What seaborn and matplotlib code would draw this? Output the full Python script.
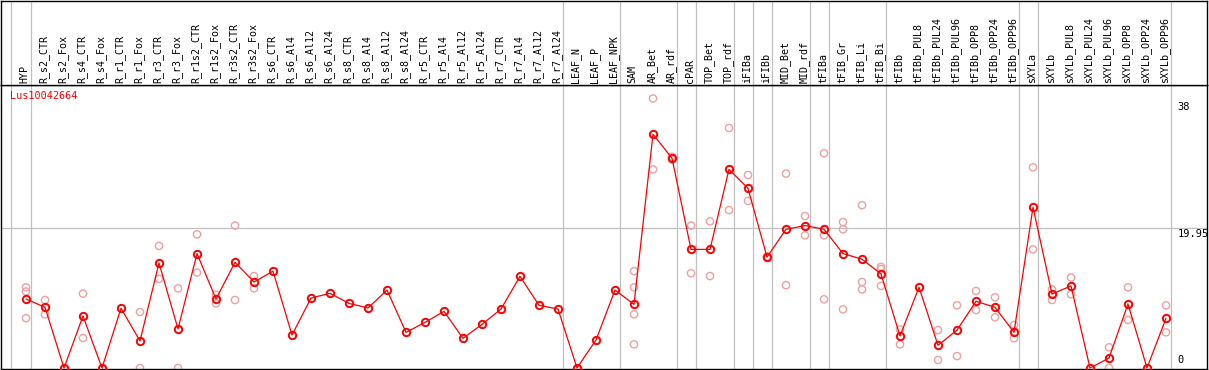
"""
Expression profile of one gene across tissue samples (means + replicates)
"""

import matplotlib
matplotlib.use("Agg")
import matplotlib.pyplot as plt
import seaborn as sns
import pandas as pd


# ──────────────────────────────────────────────
# DATA
# ──────────────────────────────────────────────

gene_name = "Lus10042664"

samples = [
    "HYP", "R_s2_CTR", "R_s2_Fox", "R_s4_CTR", "R_s4_Fox", "R_r1_CTR", "R_r1_Fox",
    "R_r3_CTR", "R_r3_Fox", "R_r1s2_CTR", "R_r1s2_Fox", "R_r3s2_CTR", "R_r3s2_Fox",
    "R_s6_CTR", "R_s6_Al4", "R_s6_Al12", "R_s6_Al24", "R_s8_CTR", "R_s8_Al4",
    "R_s8_Al12", "R_s8_Al24", "R_r5_CTR", "R_r5_Al4", "R_r5_Al12", "R_r5_Al24",
    "R_r7_CTR", "R_r7_Al4", "R_r7_Al12", "R_r7_Al24", "LEAF_N", "LEAF_P", "LEAF_NPK",
    "SAM", "AR_Bet", "AR_rdf", "cPAR", "TOP_Bet", "TOP_rdf", "iFIBa", "iFIBb",
    "MID_Bet", "MID_rdf", "tFIBa", "tFIB_Gr", "tFIB_Li", "tFIB_Bi", "tFIBb",
    "tFIBb_PUL8", "tFIBb_PUL24", "tFIBb_PUL96", "tFIBb_OPP8", "tFIBb_OPP24",
    "tFIBb_OPP96", "sXYLa", "sXYLb", "sXYLb_PUL8", "sXYLb_PUL24", "sXYLb_PUL96",
    "sXYLb_OPP8", "sXYLb_OPP24", "sXYLb_OPP96",
]

means = [
    9.83, 8.65, 0, 7.41, 0, 8.5, 3.85, 14.96, 5.56, 16.3, 9.83, 15.06, 12.25,
    13.8, 4.7, 9.97, 10.64, 9.2, 8.55, 11.1, 5.08, 6.5, 8.07, 4.23, 6.22,
    8.4, 13.06, 8.93, 8.4, 0, 3.99, 11.1,
    9.07, 33.3, 29.9, 16.9, 16.9, 28.3, 25.6, 15.8, 19.76, 20.3, 19.76, 16.3,
    15.5, 13.4, 4.56, 11.5, 3.23, 5.4, 9.5, 8.65, 5.08, 22.9, 10.54, 11.7,
    0, 1.42, 9.12, 0, 7.08,
]

replicates = [
    [11.5, 10.9, 7.1], [9.69, 7.65], [], [10.6, 4.27], [], [], [7.98, 0],
    [17.4, 12.7], [11.35, 0], [19.05, 13.6], [10.45, 9.2], [20.3, 9.69], [13.1, 11.35],
    [], [], [], [], [], [], [], [], [], [], [], [], [], [], [], [], [], [], [],
    [13.8, 11.5, 7.65, 3.37], [38.4, 28.3], [30.1, 29.7], [20.3, 13.5], [20.9, 13.1],
    [34.2, 22.5], [27.5, 23.8], [15.9, 15.7], [27.7, 11.8], [21.66, 18.9],
    [30.6, 18.9, 9.79], [20.8, 19.76, 8.36], [23.2, 12.25, 11.2], [14.4, 14.1, 11.7],
    [5.5, 3.37], [], [5.4, 1.14], [8.93, 1.7], [10.97, 8.26], [10.07, 7.22],
    [6.13, 4.23], [28.6, 16.9], [11.2, 9.69], [12.9, 10.5], [], [2.95, 0],
    [11.5, 6.84], [], [8.93, 5.08],
]

# group separators (after these column indices)
group_breaks = [-1.05, 0, 28, 31, 34, 35, 37, 38, 39, 41, 42, 45, 52, 53, 60]

y_ticks = [38, 19.95, 0]


# ──────────────────────────────────────────────
# PLOT
# ──────────────────────────────────────────────

def main():
    sns.set_style("white")
    plt.rcParams["font.family"] = ["DejaVu Sans Mono", "DejaVu Sans"]

    W, H = 1209, 370
    fig = plt.figure(figsize=(W / 100, H / 100), dpi=100)

    top_px, bot_px = 85, 369
    ax = fig.add_axes([1 / W, 1 - bot_px / H, 1206 / W, (bot_px - top_px) / H])
    hdr = fig.add_axes([1 / W, 1 - top_px / H, 1206 / W, top_px / H - 0.5 / H], sharex=ax)

    xs = list(range(len(samples)))
    mean_df = pd.DataFrame({"x": xs, "value": means})
    rep_df = pd.DataFrame(
        [(i, v) for i, vals in enumerate(replicates) for v in vals],
        columns=["x", "value"],
    )

    # separators and reference line
    for b in group_breaks:
        for a in (ax, hdr):
            a.axvline(b + 0.25, color="#c0c0c0", lw=0.9, zorder=0)
    ax.axhline(19.95, color="#c0c0c0", lw=0.9, zorder=0)

    sns.scatterplot(data=rep_df, x="x", y="value", ax=ax, s=27,
                    facecolors="none", edgecolor="#f0a0a0", linewidth=1.0, zorder=2)
    sns.lineplot(data=mean_df, x="x", y="value", ax=ax, color="red", lw=0.9,
                 marker="o", markersize=5.3, markerfacecolor="none",
                 markeredgecolor="red", markeredgewidth=1.4, zorder=3)

    ax.set_xlim((1 - 26) / 19, (1207 - 26) / 19)
    ax.set_ylim((368 - bot_px) / 7.018, (368 - top_px) / 7.018)
    ax.set_xticks([])
    ax.set_yticks([])
    ax.set_xlabel("")
    ax.set_ylabel("")

    for t in y_ticks:
        va = "bottom" if t == 0 else "top"
        yy = 0.4 if t == 0 else t - 0.1
        ax.text(60.6, yy, f"{t:g}", fontsize=7.5, va=va, ha="left", color="black")

    ax.text(-0.85, 38.7, gene_name, color="red", fontsize=7.3, va="center", ha="left")

    # header with rotated sample names
    hdr.set_ylim(top_px, 0)
    hdr.set_yticks([])
    hdr.tick_params(bottom=False, labelbottom=False)
    for i, name in enumerate(samples):
        hdr.text(i - 0.06, 83, name, rotation=90, ha="center", va="bottom",
                 fontsize=7.2, color="black")

    for a in (ax, hdr):
        for sp in a.spines.values():
            sp.set_color("black")
            sp.set_linewidth(1.0)

    fig.savefig("out.png", dpi=100)
    plt.close()


if __name__ == "__main__":
    main()
